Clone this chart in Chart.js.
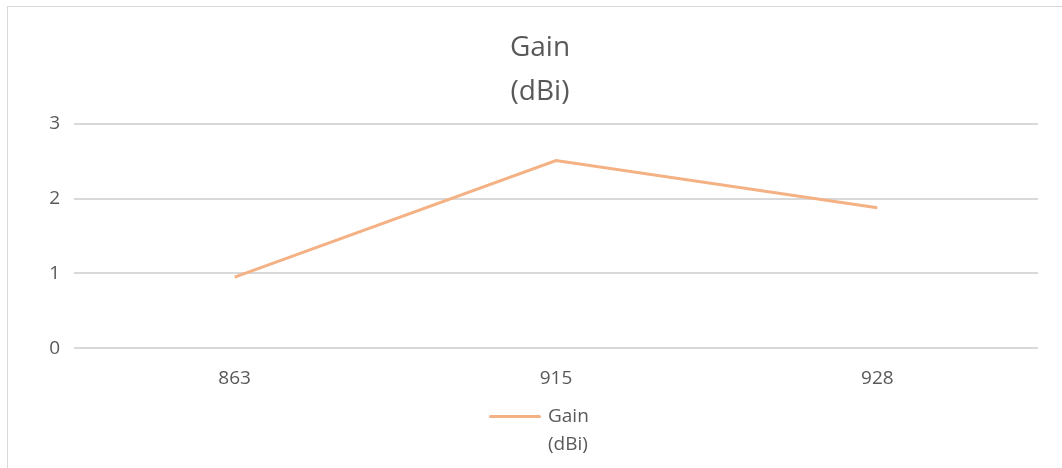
<!DOCTYPE html>
<html>
<head>
<meta charset="utf-8">
<script src="https://cdn.jsdelivr.net/npm/chart.js@4/dist/chart.umd.min.js"></script>
<style>
  body { margin: 0; background: #fff; width: 1062px; height: 468px; overflow: hidden; }
  .frame {
    position: absolute; left: 7px; top: 6px; width: 1060px; height: 470px;
    border-left: 1px solid #d9d9d9; border-top: 1px solid #d9d9d9; box-sizing: border-box;
  }
  .chartBox { position: absolute; left: 0; top: 0; width: 1046px; height: 408px; }
  .legend {
    position: absolute; left: 481px; top: 394px;
    font-family: "Open Sans", sans-serif; font-size: 19px; color: #595959; line-height: 28px;
  }
  .legend .swatch {
    position: absolute; left: 0; top: 14px; width: 52px; height: 3px;
    background: #f4b183; border-radius: 2px;
  }
  .legend .text { position: absolute; left: 59px; top: 0; white-space: nowrap; }
</style>
</head>
<body>
<div class="frame">
  <div class="chartBox"><canvas id="myChart"></canvas></div>
  <div class="legend">
    <div class="swatch"></div>
    <div class="text">Gain<br>(dBi)</div>
  </div>
</div>
<script>
const categories = ["863", "915", "928"];
const gainValues = [0.95, 2.51, 1.88];
const titleLines = ["Gain", "(dBi)"];
const yTicks = [0, 1, 2, 3];

const textColor = "#595959";
const gridColor = "#d9d9d9";

const ctx = document.getElementById("myChart").getContext("2d");
const myChart = new Chart(ctx, {
  type: "line",
  data: {
    labels: categories,
    datasets: [
      {
        label: "Gain (dBi)",
        data: gainValues,
        borderColor: "#f4b183",
        backgroundColor: "#f4b183",
        borderWidth: 3,
        pointRadius: 0,
        tension: 0,
      },
    ],
  },
  options: {
    responsive: true,
    maintainAspectRatio: false,
    animation: false,
    // left padding pushes the title centre right, y axis width shrinks to match
    layout: { padding: { left: 34, right: 16, top: 0, bottom: 6 } },
    plugins: {
      legend: { display: false },
      tooltip: { enabled: false },
      title: {
        display: true,
        text: titleLines,
        color: textColor,
        font: { family: "'Open Sans', sans-serif", size: 28, weight: "normal", lineHeight: 1.57 },
        padding: { top: 19, bottom: 10 },
      },
    },
    scales: {
      x: {
        offset: true,
        grid: { display: false, drawTicks: false },
        border: { display: false },
        ticks: {
          color: textColor,
          font: { family: "'Open Sans', sans-serif", size: 19 },
          padding: 19,
        },
      },
      y: {
        min: 0,
        max: 3,
        afterBuildTicks: scale => {
          scale.ticks = yTicks.map(v => ({ value: v }));
        },
        afterFit: scale => {
          scale.width = 32;
        },
        grid: { color: gridColor, lineWidth: 2, drawTicks: false },
        border: { display: false },
        ticks: {
          color: textColor,
          font: { family: "'Open Sans', sans-serif", size: 19 },
          padding: 14,
        },
      },
    },
  },
});
</script>
</body>
</html>
